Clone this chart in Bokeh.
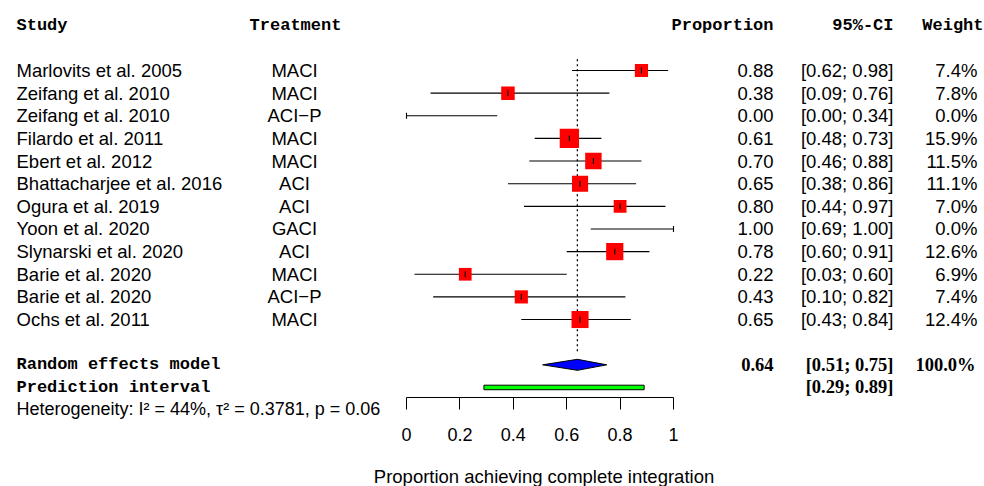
from bokeh.plotting import figure
from bokeh.models import ColumnDataSource, LinearAxis, FixedTicker, Range1d
from bokeh.core.properties import value
from bokeh.embed import file_html
from bokeh.resources import INLINE

# ---------------- data ----------------
studies = ["Marlovits et al. 2005", "Zeifang et al. 2010", "Zeifang et al. 2010",
           "Filardo et al. 2011", "Ebert et al. 2012", "Bhattacharjee et al. 2016",
           "Ogura et al. 2019", "Yoon et al. 2020", "Slynarski et al. 2020",
           "Barie et al. 2020", "Barie et al. 2020", "Ochs et al. 2011"]
treatments = ["MACI", "MACI", "ACI\u2212P", "MACI", "MACI", "ACI",
              "ACI", "GACI", "ACI", "MACI", "ACI\u2212P", "MACI"]
proportion = [0.88, 0.38, 0.00, 0.61, 0.70, 0.65, 0.80, 1.00, 0.78, 0.22, 0.43, 0.65]
ci_lower = [0.62, 0.09, 0.00, 0.48, 0.46, 0.38, 0.44, 0.69, 0.60, 0.03, 0.10, 0.43]
ci_upper = [0.98, 0.76, 0.34, 0.73, 0.88, 0.86, 0.97, 1.00, 0.91, 0.60, 0.82, 0.84]
weights = [7.4, 7.8, 0.0, 15.9, 11.5, 11.1, 7.0, 0.0, 12.6, 6.9, 7.4, 12.4]

pooled_est = 0.64
pooled_lo = 0.51
pooled_hi = 0.75
pooled_weight = 100.0
pred_lo = 0.29
pred_hi = 0.89
heterogeneity_text = "Heterogeneity: I\u00b2 = 44%, \u03c4\u00b2 = 0.3781, p = 0.06"
headers = ["Study", "Treatment", "Proportion", "95%-CI", "Weight"]
x_ticks = [0, 0.2, 0.4, 0.6, 0.8, 1]
x_tick_labels = ["0", "0.2", "0.4", "0.6", "0.8", "1"]
x_label = "Proportion achieving complete integration"
pooled_label = "Random effects model"
pred_label = "Prediction interval"

# ---------------- layout ----------------
W, H = 984, 486
PX0, PXU = 406, 267          # px of x=0, px per unit
ROW0, ROWH = 70, 22.64       # px of row 0, px per row


def xp(px):
    return (px - PX0) / PXU


n = len(studies)
rows = list(range(n))
pooled_row = n + 1
pred_row = n + 2
het_row = n + 2.93
axis_row = n + 2.44
header_row = -2
xlabel_row = 17.93

p = figure(width=W, height=H, output_backend="svg", toolbar_location=None,
           x_range=Range1d(-PX0 / PXU, (W - PX0) / PXU),
           y_range=Range1d((H - ROW0) / ROWH, -ROW0 / ROWH),
           x_axis_location=None, y_axis_location=None,
           min_border=0, outline_line_color=None)
p.xgrid.visible = False
p.ygrid.visible = False
p.background_fill_color = "white"

sans = value("Liberation Sans")
mono = value("Liberation Mono")
serif = value("Liberation Serif")

src = ColumnDataSource(dict(
    study=studies, treat=treatments, prop=proportion, lo=ci_lower, hi=ci_upper,
    w=weights, row=rows,
    tick_lo=[r - 0.13 for r in rows], tick_hi=[r + 0.13 for r in rows],
    prop_txt=[f"{v:.2f}" for v in proportion],
    ci_txt=[f"[{a:.2f}; {b:.2f}]" for a, b in zip(ci_lower, ci_upper)],
    w_txt=[f"{v:.1f}%" for v in weights],
))

pos = [i for i, v in enumerate(weights) if v > 0]
sq = ColumnDataSource(dict(
    x=[proportion[i] for i in pos], y=[rows[i] for i in pos],
    size=[4.84 * weights[i] ** 0.5 for i in pos]))

# reference line
p.segment(x0=pooled_est, x1=pooled_est, y0=-0.5, y1=pooled_row - 0.5,
          line_color="black", line_width=1.3, line_dash="2 3")

# CI lines
p.segment(x0="lo", x1="hi", y0="row", y1="row", source=src,
          line_color="black", line_width=1.1)
# squares
p.scatter(x="x", y="y", size="size", marker="square", source=sq,
          fill_color="#FF0000", line_color=None)
# point ticks
p.segment(x0="prop", x1="prop", y0="tick_lo", y1="tick_hi", source=src,
          line_color="black", line_width=1.1)

# diamond
dh = 0.243
p.patch(x=[pooled_lo, pooled_est, pooled_hi, pooled_est],
        y=[pooled_row, pooled_row - dh, pooled_row, pooled_row + dh],
        fill_color="#0000FF", line_color="black", line_width=1)

# prediction interval
p.quad(left=pred_lo, right=pred_hi, top=pred_row - 0.1, bottom=pred_row + 0.1,
       fill_color="#00FF00", line_color="black", line_width=1)

# axis
ax = LinearAxis(fixed_location=axis_row, bounds=(x_ticks[0], x_ticks[-1]),
                ticker=FixedTicker(ticks=x_ticks),
                major_label_overrides={t: l for t, l in zip(x_ticks, x_tick_labels)},
                major_tick_out=12, major_tick_in=0, minor_tick_out=0, minor_tick_in=0,
                axis_line_color="black", major_tick_line_color="black",
                major_label_text_font="Liberation Sans",
                major_label_text_font_size="18px",
                major_label_text_color="black",
                major_label_standoff=19)
p.add_layout(ax, "below")

# text columns
tstyle = dict(text_font=sans, text_font_size="18.5px", text_baseline="middle",
              text_color="black")
p.text(x=xp(16), y="row", text="study", source=src, text_align="left", **tstyle)
p.text(x=xp(294), y="row", text="treat", source=src, text_align="center", **tstyle)
p.text(x=xp(773), y="row", text="prop_txt", source=src, text_align="right", **tstyle)
p.text(x=xp(893), y="row", text="ci_txt", source=src, text_align="right", **tstyle)
p.text(x=xp(977), y="row", text="w_txt", source=src, text_align="right", **tstyle)

# headers
hstyle = dict(text_font=mono, text_font_size="17px", text_font_style="bold",
              text_baseline="middle", text_color="black")
hx = [xp(16), xp(295), xp(773), xp(893), xp(983)]
ha = ["left", "center", "right", "right", "right"]
for lab, x, a in zip(headers, hx, ha):
    p.text(x=[x], y=[header_row], text=[lab], text_align=a, **hstyle)

# pooled rows
bstyle = dict(text_font=mono, text_font_size="17px", text_font_style="bold",
              text_baseline="middle", text_color="black")
vstyle = dict(text_font=serif, text_font_size="18.5px", text_font_style="bold",
              text_baseline="middle", text_color="black")
p.text(x=[xp(16)], y=[pooled_row], text=[pooled_label], text_align="left", **bstyle)
p.text(x=[xp(773)], y=[pooled_row], text=[f"{pooled_est:.2f}"], text_align="right", **vstyle)
p.text(x=[xp(893)], y=[pooled_row], text=[f"[{pooled_lo:.2f}; {pooled_hi:.2f}]"],
       text_align="right", **vstyle)
p.text(x=[xp(975)], y=[pooled_row], text=[f"{pooled_weight:.1f}%"], text_align="right", **vstyle)
p.text(x=[xp(16)], y=[pred_row], text=[pred_label], text_align="left", **bstyle)
p.text(x=[xp(893)], y=[pred_row], text=[f"[{pred_lo:.2f}; {pred_hi:.2f}]"],
       text_align="right", **vstyle)

# heterogeneity
p.text(x=[xp(16)], y=[het_row], text=[heterogeneity_text], text_align="left",
       text_font=sans, text_font_size="18px", text_baseline="middle", text_color="black")

# x label
p.text(x=[(x_ticks[0] + x_ticks[-1]) / 2 + 0.015], y=[xlabel_row], text=[x_label],
       text_align="center", text_font=sans, text_font_size="18.5px",
       text_baseline="middle", text_color="black")

open("out.html", "w").write(file_html(p, INLINE))
